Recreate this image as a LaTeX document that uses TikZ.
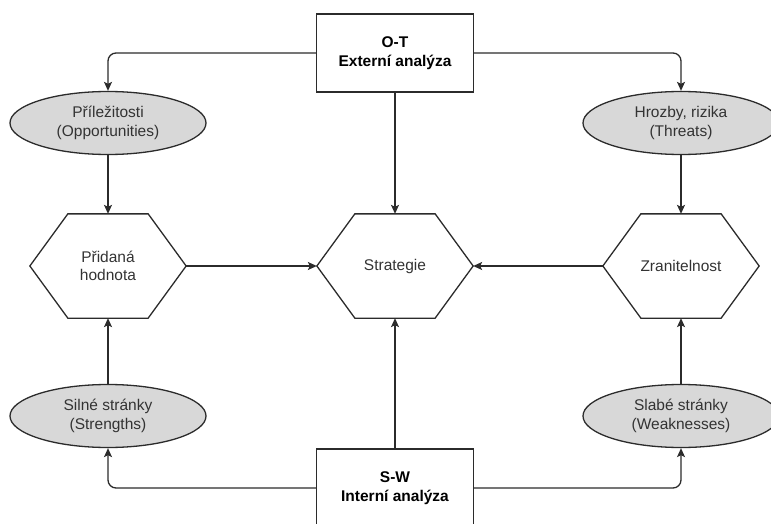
\documentclass[tikz,border=0pt]{standalone}
\usepackage{fontspec}
\setmainfont{Liberation Sans}
\usetikzlibrary{shapes.geometric,arrows.meta}
\definecolor{oval}{HTML}{D8D8D8}
\definecolor{edge}{HTML}{2B2B2B}
\begin{document}
\begin{tikzpicture}[x=1pt, y=-1pt, line width=1.3pt,
    font=\fontsize{15.5}{18.5}\selectfont,
    box/.style={rectangle, draw=edge, minimum width=157pt, minimum height=78pt,
      inner sep=0pt, align=center, font=\fontsize{15.5}{18.5}\selectfont\bfseries},
    oppo/.style={ellipse, draw=edge, fill=oval, minimum width=196pt,
      minimum height=63pt, inner sep=0pt, align=center, text=black!80},
    hexa/.style={rectangle, minimum width=155pt, minimum height=103pt,
      inner sep=0pt, align=center, text=black!80,
      append after command={(\tikzlastnode.west)
        -- ([xshift=38pt]\tikzlastnode.north west)
        -- ([xshift=-38pt]\tikzlastnode.north east)
        -- (\tikzlastnode.east)
        -- ([xshift=-38pt]\tikzlastnode.south east)
        -- ([xshift=38pt]\tikzlastnode.south west) -- cycle}},
    arr/.style={draw=edge, -{Stealth[length=9pt, width=8pt, inset=2pt]}}]
  \clip (0,0) rectangle (771,524);
  % vnejsi a vnitrni analyza
  \node[box] (ot) at (395,53) {O-T\\Externí analýza};
  \node[box] (sw) at (395,488) {S-W\\Interní analýza};
  % prilezitosti, hrozby, silne a slabe stranky
  \node[oppo] (opp) at (108,123) {Příležitosti\\(Opportunities)};
  \node[oppo] (thr) at (681,123) {Hrozby, rizika\\(Threats)};
  \node[oppo] (str) at (108,416) {Silné stránky\\(Strengths)};
  \node[oppo] (wea) at (681,416) {Slabé stránky\\(Weaknesses)};
  % sestiuhelniky
  \draw[edge] (108,266) node[hexa] (val) {Přidaná\\hodnota};
  \draw[edge] (395,266) node[hexa] (strat) {Strategie};
  \draw[edge] (681,266) node[hexa] (vul) {Zranitelnost};
  % spojnice
  \draw[arr, rounded corners=8pt] (ot.west) -| (opp.north);
  \draw[arr, rounded corners=8pt] (ot.east) -| (thr.north);
  \draw[arr, rounded corners=8pt] (sw.west) -| (str.south);
  \draw[arr, rounded corners=8pt] (sw.east) -| (wea.south);
  \draw[arr] (opp) -- (val);
  \draw[arr] (thr) -- (vul);
  \draw[arr] (str) -- (val);
  \draw[arr] (wea) -- (vul);
  \draw[arr] (val.east) -- (strat.west);
  \draw[arr] (vul.west) -- (strat.east);
  \draw[arr] (ot) -- (strat);
  \draw[arr] (sw) -- (strat);
\end{tikzpicture}
\end{document}
